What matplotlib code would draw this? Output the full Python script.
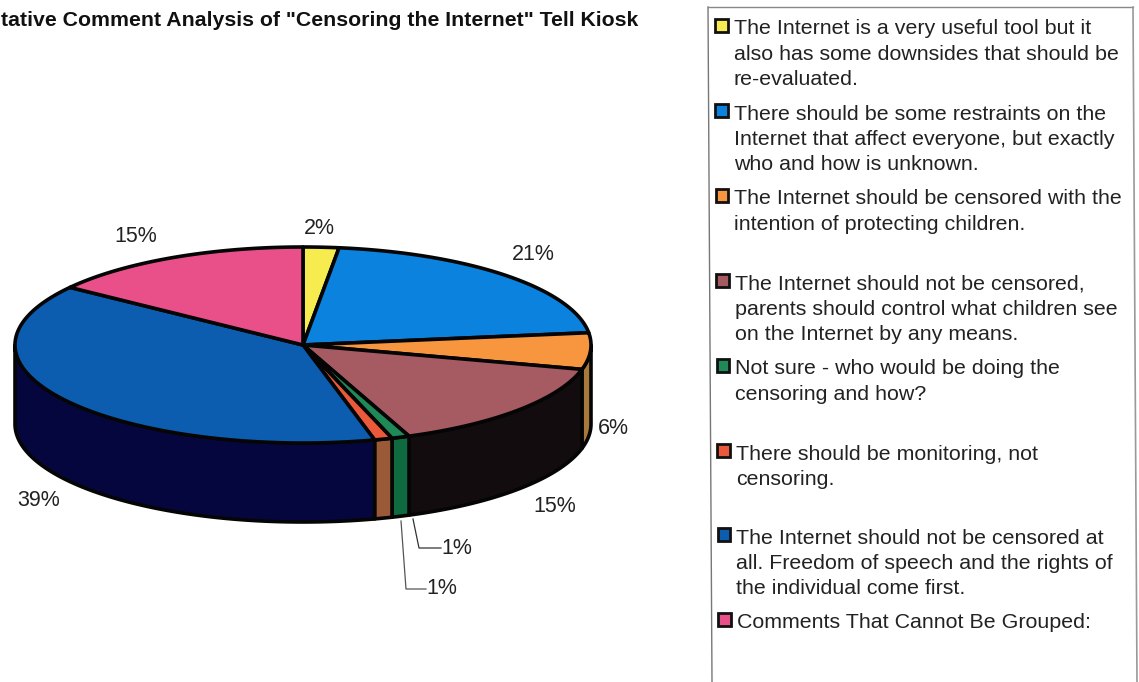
import numpy as np
import matplotlib
matplotlib.use("Agg")
import matplotlib.pyplot as plt
from matplotlib.patches import Polygon, Rectangle

plt.rcParams['font.family'] = ['Liberation Sans', 'DejaVu Sans']

title = 'tative Comment Analysis of "Censoring the Internet" Tell Kiosk'
values = [2, 21, 6, 15, 1, 1, 39, 15]
top_colors = ['#F6EC50', '#0A82DE', '#F7963F', '#A65A62', '#1F8A58', '#E9593A', '#0C5DB0', '#E9508A']
side_colors = ['#8F8A2A', '#05407A', '#A8783C', '#120C0E', '#0F6A40', '#9A5A38', '#06063F', '#7A2A48']
legend_lines = [
    ["The Internet is a very useful tool but it", "also has some downsides that should be", "re-evaluated."],
    ["There should be some restraints on the", "Internet that affect everyone, but exactly", "who and how is unknown."],
    ["The Internet should be censored with the", "intention of protecting children."],
    ["The Internet should not be censored,", "parents should control what children see", "on the Internet by any means."],
    ["Not sure - who would be doing the", "censoring and how?"],
    ["There should be monitoring, not", "censoring."],
    ["The Internet should not be censored at", "all. Freedom of speech and the rights of", "the individual come first."],
    ["Comments That Cannot Be Grouped:"],
]
legend_tops = [29, 114, 199, 284, 369, 454, 538, 623]
label_pos = [(319, 228), (533, 254), (613, 428), (555, 507), (457, 549), (442, 589), (39, 500), (136, 237)]

W, H = 1139, 682
fig = plt.figure(figsize=(W / 100, H / 100), dpi=100, facecolor='white')
ax = fig.add_axes([0, 0, 1, 1])
ax.set_xlim(0, W)
ax.set_ylim(H, 0)
ax.axis('off')

CX, CY, RX, RY, DEPTH = 303, 345, 288, 98, 79
INK = '#222222'


def rim(a0, a1, drop=0):
    """Points along the ellipse rim; angles run clockwise from 12 o'clock, in degrees."""
    t = np.radians(np.linspace(a0, a1, max(int(abs(a1 - a0) * 2), 2)))
    return np.column_stack([CX + RX * np.sin(t), CY - RY * np.cos(t) + drop])


edges = np.cumsum([0] + values) / sum(values) * 360

# Outer wall: only the front half of the disc (90-270 degrees) is visible
for c, a0, a1 in zip(side_colors, edges[:-1], edges[1:]):
    lo, hi = max(a0, 90), min(a1, 270)
    if hi > lo:
        pts = np.vstack([rim(lo, hi), rim(lo, hi, DEPTH)[::-1]])
        ax.add_patch(Polygon(pts, closed=True, fc=c, ec='#050505', lw=2.6, joinstyle='round'))

# Top face
for c, a0, a1 in zip(top_colors, edges[:-1], edges[1:]):
    pts = np.vstack([[CX, CY], rim(a0, a1)])
    ax.add_patch(Polygon(pts, closed=True, fc=c, ec='#050505', lw=2.6, joinstyle='round'))

# Percentage labels
for v, (x, y) in zip(values, label_pos):
    ax.text(x, y, f"{v}%", fontsize=15.5, color=INK, ha='center', va='center')

# Leader lines for the two thin slices
ax.plot([413, 419, 441], [519, 548, 548], color='#333333', lw=0.9)
ax.plot([401, 406, 426], [521, 589, 589], color='#555555', lw=0.9)

ax.text(1, 21, title, fontsize=15.3, fontweight='bold', color='#111111', ha='left', va='center')

# Legend frame, slightly skewed as on the scanned page
ax.plot([708, 712], [7, H], color='#777777', lw=1.0)
ax.plot([708, 1133], [7, 7], color='#888888', lw=1.0)
ax.plot([1133, 1137], [7, H], color='#999999', lw=1.2)

LINE_STEP = 25.4
for i, (lines, y0, c) in enumerate(zip(legend_lines, legend_tops, top_colors)):
    shift = i * 3.4 / 7
    ax.add_patch(Rectangle((715 + shift, y0 - 10), 12.5, 12.5, fc=c, ec='#111111', lw=2.0))
    for j, line in enumerate(lines):
        ax.text(733.5 + shift, y0 + j * LINE_STEP, line, fontsize=15.4, color=INK, ha='left', va='center')

fig.savefig('out.png', dpi=100, facecolor='white')
